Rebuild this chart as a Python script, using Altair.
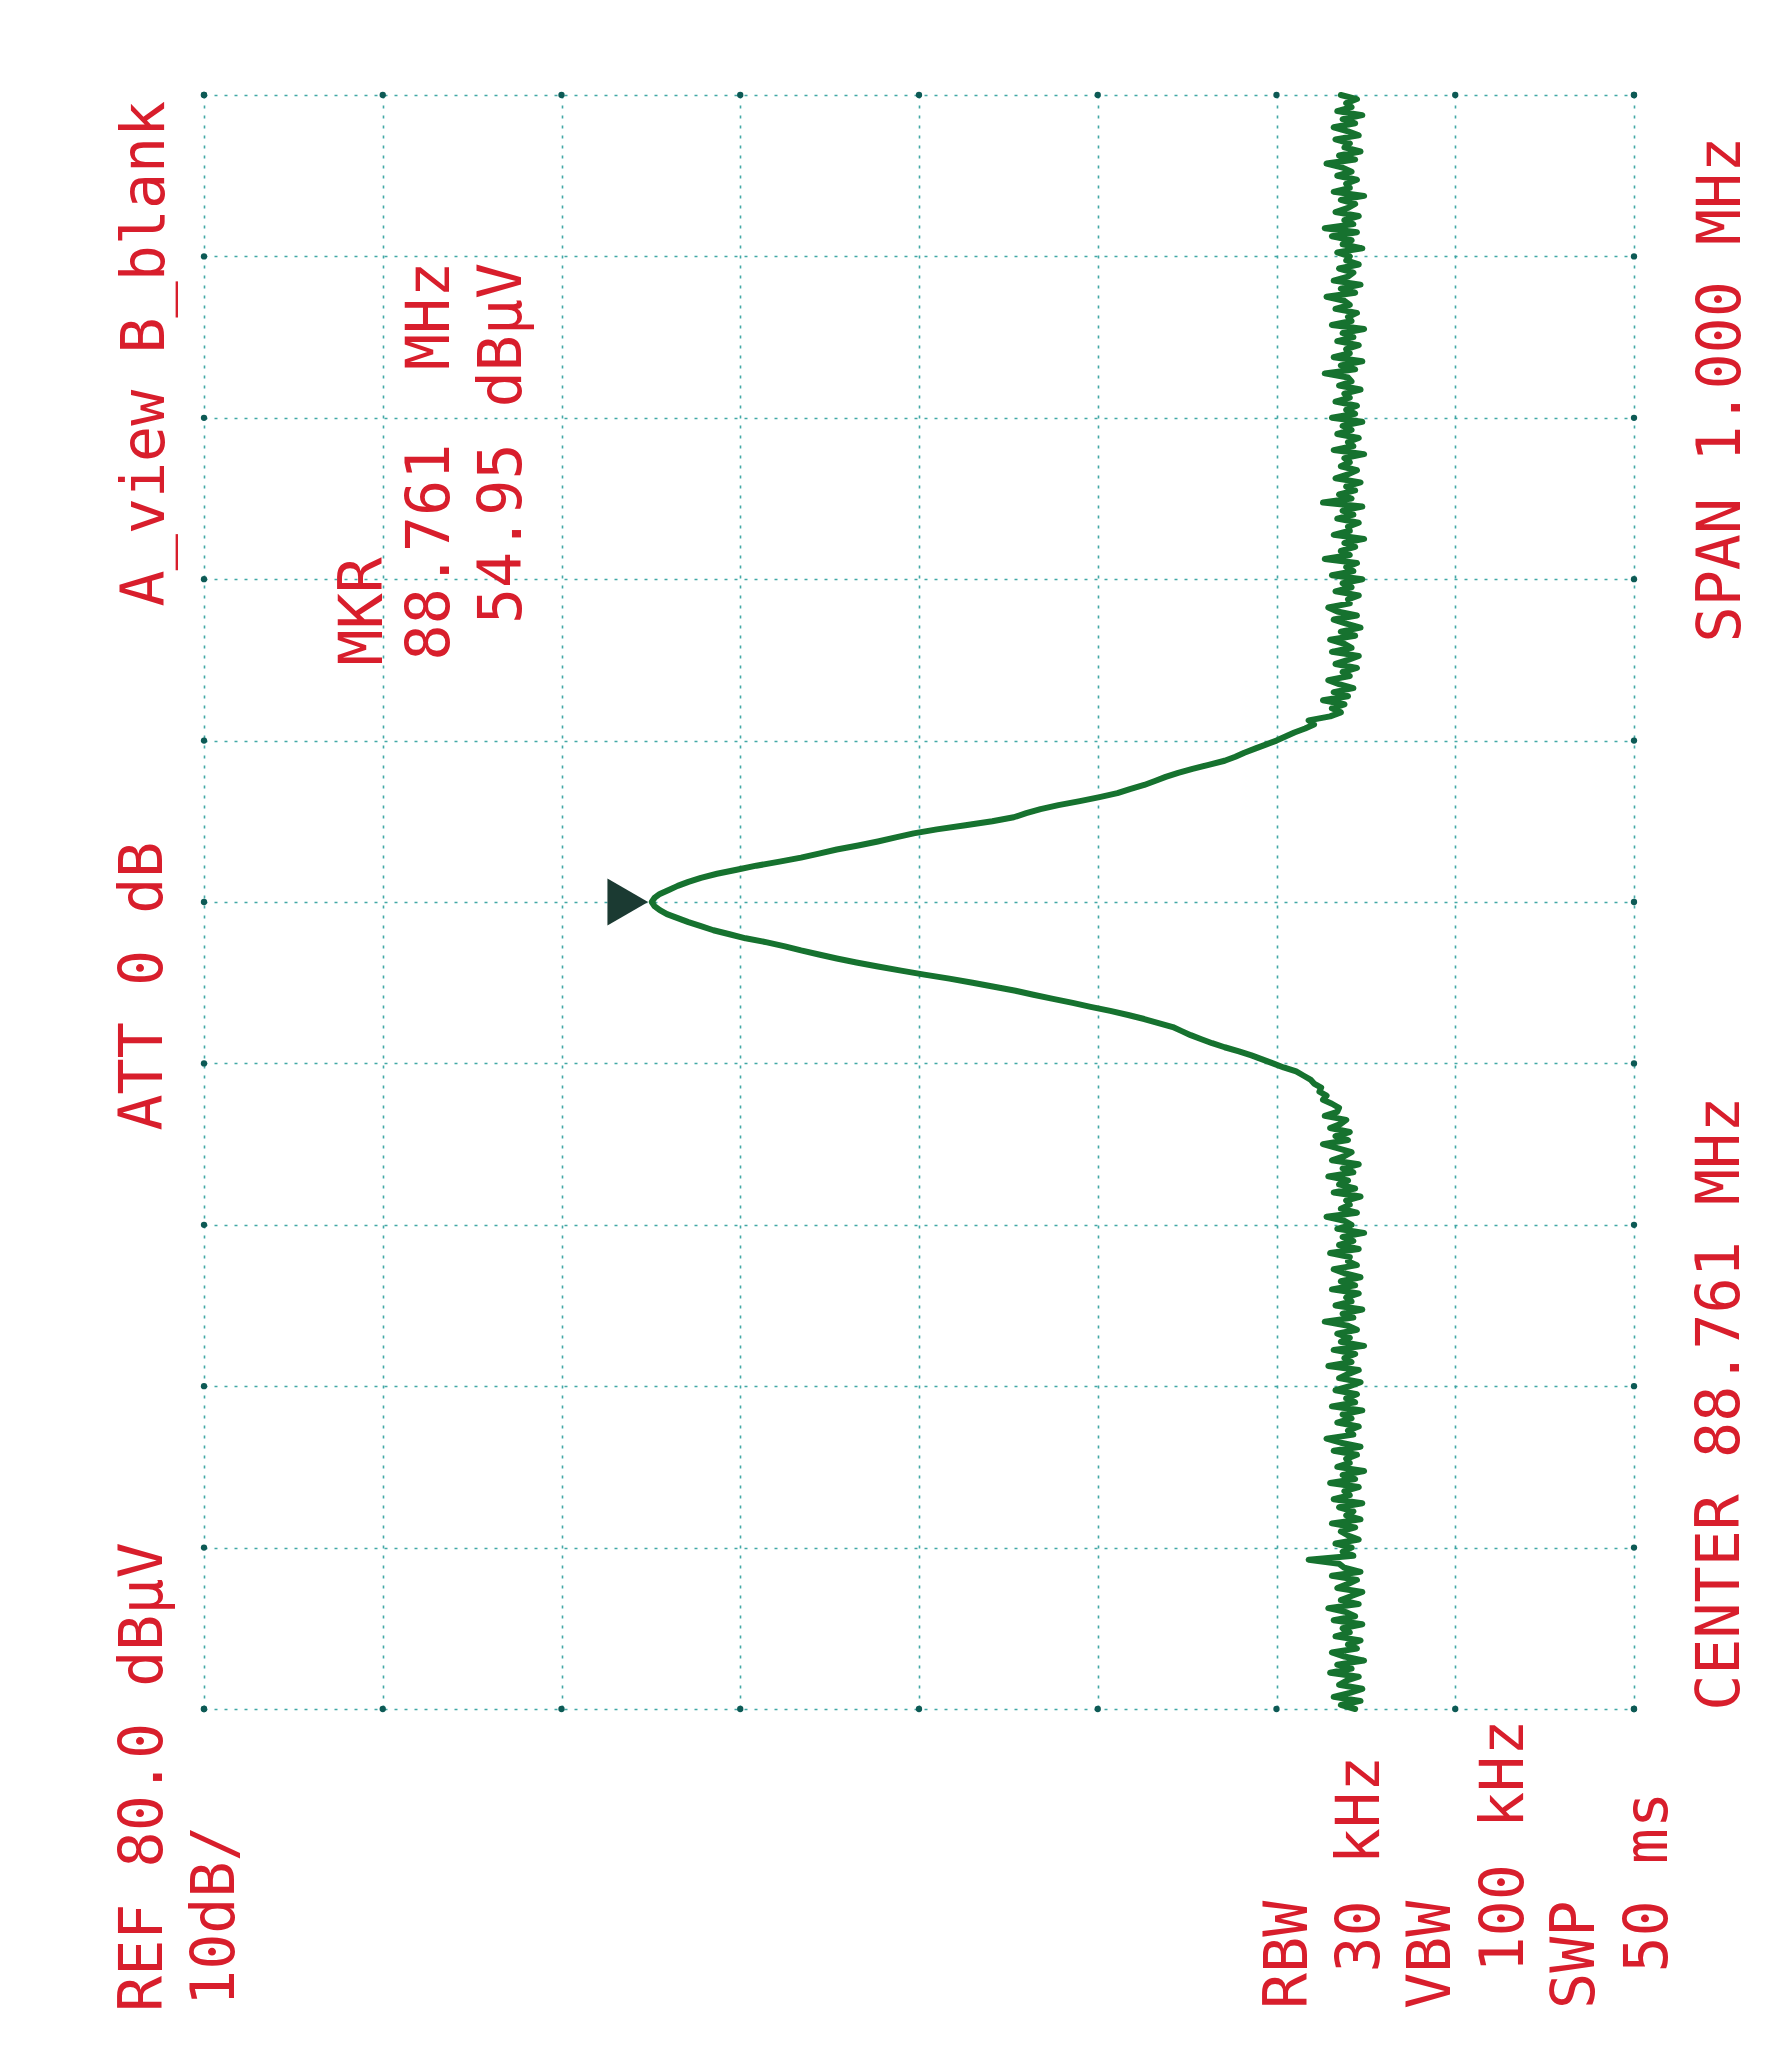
import altair as alt
import pandas as pd

# ---------------- data ----------------
# sweep: 401 points, 2.5 kHz apart, offset from centre (kHz)
step_khz = 2.5
start_khz = -500.0

# amplitude (dBuV), lower noise floor: -500 .. -127.5 kHz
noise_low = [
    15.6, 16.4, 15.3, 16.8, 15.9, 15.2, 16.5, 16.1, 15.4, 17.0,
    15.8, 16.6, 15.1, 16.2, 16.9, 15.5, 16.0, 15.3, 16.7, 15.9,
    16.3, 15.2, 16.8, 15.6, 16.1, 17.1, 15.4, 16.4, 15.8, 15.2,
    16.6, 16.0, 15.5, 16.9, 15.3, 16.2, 16.5, 18.2, 15.7, 16.3,
    15.8, 16.7, 15.4, 16.0, 16.4, 15.6, 16.9, 15.3, 16.1, 15.7,
    16.5, 15.2, 16.8, 15.9, 16.2, 15.4, 17.0, 15.6, 16.3, 15.1,
    16.6, 15.9, 16.1, 15.5, 16.8, 15.3, 16.4, 17.2, 15.7, 16.0,
    15.4, 16.6, 15.8, 16.3, 15.2, 16.9, 15.6, 16.1, 15.5, 16.7,
    15.9, 15.3, 16.5, 16.0, 15.4, 17.1, 15.8, 16.2, 15.6, 16.8,
    15.1, 16.4, 15.9, 16.6, 15.5, 16.0, 17.3, 15.7, 16.3, 15.2,
    16.7, 15.8, 16.1, 15.4, 16.9, 15.6, 16.4, 15.3, 16.2, 16.8,
    15.5, 16.0, 15.9, 17.0, 15.4, 16.5, 15.7, 16.3, 15.1, 16.6,
    15.8, 16.2, 17.2, 15.5, 16.4, 15.9, 16.1, 15.3, 16.8, 15.6,
    16.5, 16.0, 17.1, 15.7, 16.3, 15.4, 16.9, 16.2, 15.8, 16.6,
    17.4, 16.0, 16.7, 15.9, 17.0, 16.4, 16.1, 17.3, 16.6, 16.5,
]

# signal skirt: -125 .. +115 kHz
skirt = [
    16.9, 17.4, 17.2, 17.6, 17.5, 17.9, 18.1, 18.5, 18.9, 19.6,
    20.2, 20.8, 21.4, 22.1, 22.9, 23.6, 24.2, 24.8, 25.3, 25.8,
    26.6, 27.4, 28.3, 29.3, 30.4, 31.4, 32.5, 33.6, 34.6, 35.8,
    37.0, 38.3, 39.7, 41.0, 42.3, 43.5, 44.6, 45.6, 46.6, 47.5,
    48.5, 49.7, 50.6, 51.5, 52.2, 52.9, 53.5, 54.1, 54.5, 54.8,
    54.95,
    54.8, 54.5, 54.0, 53.5, 52.9, 52.2, 51.3, 50.2, 49.1, 47.8,
    46.6, 45.6, 44.6, 43.4, 42.3, 41.3, 40.3, 39.0, 37.4, 35.9,
    34.7, 34.0, 33.2, 32.2, 31.0, 29.9, 28.9, 28.2, 27.4, 26.8,
    26.2, 25.5, 24.7, 23.8, 22.9, 22.3, 21.8, 21.2, 20.6, 20.0,
    19.5, 19.0, 18.4, 17.9, 18.2, 17.0,
]

# upper noise floor: +117.5 .. +500 kHz
noise_high = [
    16.4, 16.9, 16.2, 17.4, 16.0, 16.8, 15.7, 16.5, 17.1, 15.9,
    16.3, 15.5, 16.7, 16.0, 15.4, 16.9, 15.8, 16.2, 17.0, 15.6,
    16.4, 15.3, 16.1, 16.8, 15.5, 16.6, 17.1, 15.9, 16.0, 15.4,
    16.7, 15.8, 16.3, 15.2, 16.9, 15.7, 16.1, 15.5, 17.3, 15.9,
    16.4, 15.6, 16.2, 15.1, 16.8, 15.9, 16.0, 15.4, 16.6, 15.7,
    16.3, 15.2, 17.4, 15.8, 16.5, 15.6, 16.1, 15.3, 16.7, 16.0,
    15.5, 16.4, 15.9, 16.2, 15.1, 16.8, 15.7, 16.0, 15.4, 16.6,
    15.8, 16.3, 15.2, 16.9, 15.6, 16.1, 15.5, 16.7, 15.9, 16.2,
    15.3, 16.5, 15.8, 16.0, 17.3, 15.6, 16.4, 15.2, 16.8, 15.9,
    16.1, 15.4, 16.6, 15.7, 16.3, 15.1, 16.9, 15.8, 16.0, 15.5,
    16.7, 15.9, 16.2, 17.2, 15.6, 16.4, 15.3, 16.8, 16.0, 15.7,
    16.5, 15.4, 16.1, 15.9, 16.6, 15.2, 16.3, 15.8, 16.9, 15.5,
    17.3, 15.7, 16.2, 15.4, 16.7, 16.0, 15.6, 16.4, 15.1, 16.8,
    15.9, 16.1, 15.5, 16.6, 15.8, 16.3, 17.2, 15.6, 16.5, 15.3,
    16.2, 15.9, 16.7, 15.4, 16.0, 16.8, 15.6, 16.3, 15.2, 16.6,
    15.8, 16.1, 15.5, 16.4,
]

marker_db = 54.95
marker_khz = 0.0

amp_ticks = [0, 10, 20, 30, 40, 50, 60, 70, 80]
freq_ticks = [-500, -400, -300, -200, -100, 0, 100, 200, 300, 400, 500]

label_text = [
    "REF 80.0 dB\u00b5V", "10dB/", "ATT 0 dB", "A_view B_blank",
    "MKR", "88.761", "MHz", "54.95 dB\u00b5V",
    "SPAN 1.000 MHz", "CENTER 88.761 MHz",
    "RBW", "30 kHz", "VBW", "100 kHz", "SWP", "50 ms",
]
label_db = [83.36, 79.33, 83.36, 83.24,
            71.05, 67.30, 67.30, 63.27,
            -4.92, -4.87,
            19.30, 15.27, 11.30, 7.22, 3.24, -0.84]
label_khz = [-687.7, -684.0, -141.6, 183.1,
             146.6, 149.7, 329.6, 172.2,
             160.8, -501.1,
             -685.8, -663.3, -685.8, -663.3, -685.8, -663.3]

# ---------------- tables ----------------
amps = noise_low + skirt + noise_high
trace = pd.DataFrame({
    "i": list(range(len(amps))),
    "khz": [start_khz + k * step_khz for k in range(len(amps))],
    "db": amps,
})
labels = pd.DataFrame({"t": label_text, "db": label_db, "khz": label_khz})
marker = pd.DataFrame({"db": [marker_db], "khz": [marker_khz]})
border = pd.DataFrame(
    [{"db": a, "khz": freq_ticks[0]} for a in amp_ticks]
    + [{"db": a, "khz": freq_ticks[-1]} for a in amp_ticks]
    + [{"db": amp_ticks[0], "khz": f} for f in freq_ticks]
    + [{"db": amp_ticks[-1], "khz": f} for f in freq_ticks]
)

GRID = "#2e9e9c"
RED = "#d81e2c"
GREEN = "#16722f"

xs = alt.Scale(domain=[80, 0], nice=False, zero=False)
ys = alt.Scale(domain=[-500, 500], nice=False, zero=False)

xax = alt.Axis(values=amp_ticks, grid=True, gridDash=[3, 7], gridColor=GRID,
               gridWidth=1.6, gridOpacity=0.9, labels=False, ticks=False,
               domain=False, title=None)
yax = alt.Axis(values=freq_ticks, grid=True, gridDash=[3, 7], gridColor=GRID,
               gridWidth=1.6, gridOpacity=0.9, labels=False, ticks=False,
               domain=False, title=None)

line = alt.Chart(trace).mark_line(
    color=GREEN, strokeWidth=6, strokeJoin="round", strokeCap="round"
).encode(
    x=alt.X("db:Q", scale=xs, axis=xax),
    y=alt.Y("khz:Q", scale=ys, axis=yax),
    order=alt.Order("i:Q"),
)

dots = alt.Chart(border).mark_point(
    filled=True, color="#0d5a55", size=40, opacity=1
).encode(x=alt.X("db:Q", scale=xs), y=alt.Y("khz:Q", scale=ys))

mk = alt.Chart(marker).mark_point(
    shape="triangle-right", filled=True, color="#1b3a32", size=2200,
    opacity=1, xOffset=-24
).encode(x=alt.X("db:Q", scale=xs), y=alt.Y("khz:Q", scale=ys))

txt = alt.Chart(labels).mark_text(
    angle=270, align="left", baseline="middle", font="DejaVu Sans Mono",
    fontSize=60, color=RED
).encode(x=alt.X("db:Q", scale=xs), y=alt.Y("khz:Q", scale=ys), text="t:N")

chart = alt.layer(line, dots, mk, txt).properties(
    width=1430, height=1614,
    autosize=alt.AutoSizeParams(type="none"),
    padding={"left": 196, "top": 87, "right": 140, "bottom": 335},
    background="white",
).configure_view(stroke=None)

chart.save("out.html", embed_options={"renderer": "svg", "actions": False})
